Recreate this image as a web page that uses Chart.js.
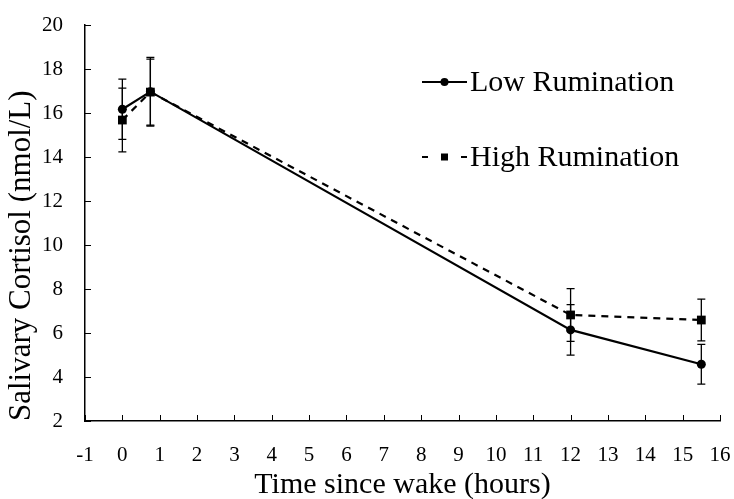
<!DOCTYPE html>
<html>
<head>
<meta charset="utf-8">
<script src="https://cdn.jsdelivr.net/npm/chart.js"></script>
<style>
  html, body { margin: 0; padding: 0; background: #fff; }
  #wrap { width: 734px; height: 499px; }
</style>
</head>
<body>
<div id="wrap"><canvas id="cortisolChart" width="734" height="499"></canvas></div>
<script>
// Tid sedan uppvaknande (timmar)
const hours = [0, 0.75, 12, 15.5];

// Kortisolvärden (nmol/L)
const lowRumination = [16.17, 16.97, 6.14, 4.58];
const highRumination = [15.68, 16.95, 6.82, 6.59];

// Felstaplar (±)
const lowErrors = [1.37, 1.56, 1.15, 0.9];
const highErrors = [1.45, 1.5, 1.2, 0.95];

const seriesLabels = ['Low Rumination', 'High Rumination'];
const xTitle = 'Time since wake (hours)';
const yTitle = 'Salivary Cortisol (nmol/L)';

const FONT = "'Liberation Serif', 'DejaVu Serif', serif";

function toPoints(xs, ys) {
    return xs.map((x, i) => ({ x: x, y: ys[i] }));
}

// Rita felstaplar via skalorna
const errorBars = {
    id: 'errorBars',
    afterDatasetsDraw(chart) {
        const ctx = chart.ctx;
        const yScale = chart.scales.y;
        chart.data.datasets.forEach((ds, di) => {
            const meta = chart.getDatasetMeta(di);
            ds.data.forEach((pt, i) => {
                const e = ds.errors[i];
                const xPos = meta.data[i].x;
                const yTop = yScale.getPixelForValue(pt.y + e);
                const yBot = yScale.getPixelForValue(pt.y - e);
                ctx.save();
                ctx.strokeStyle = '#000';
                ctx.lineWidth = 1.3;
                ctx.beginPath();
                ctx.moveTo(xPos, yTop);
                ctx.lineTo(xPos, yBot);
                ctx.moveTo(xPos - 4, yTop);
                ctx.lineTo(xPos + 4, yTop);
                ctx.moveTo(xPos - 4, yBot);
                ctx.lineTo(xPos + 4, yBot);
                ctx.stroke();
                ctx.restore();
            });
        });
    }
};

// Inåtvända tickmarkeringar
const innerTicks = {
    id: 'innerTicks',
    afterDraw(chart) {
        const ctx = chart.ctx;
        const xs = chart.scales.x;
        const ys = chart.scales.y;
        const area = chart.chartArea;
        ctx.save();
        ctx.strokeStyle = '#000';
        ctx.lineWidth = 1;
        ctx.beginPath();
        xs.ticks.forEach(t => {
            const px = Math.round(xs.getPixelForValue(t.value)) + 0.5;
            ctx.moveTo(px, area.bottom);
            ctx.lineTo(px, area.bottom - 6);
        });
        ys.ticks.forEach(t => {
            const py = Math.round(ys.getPixelForValue(t.value)) + 0.5;
            ctx.moveTo(area.left, py);
            ctx.lineTo(area.left + 6, py);
        });
        ctx.stroke();
        ctx.restore();
    }
};

// Egen legend inne i diagrammet
const insideLegend = {
    id: 'insideLegend',
    afterDraw(chart) {
        const ctx = chart.ctx;
        const rows = [82, 157];
        const x0 = 422, x1 = 467;
        ctx.save();
        chart.data.datasets.forEach((ds, i) => {
            const y = rows[i];
            ctx.strokeStyle = '#000';
            ctx.fillStyle = '#000';
            ctx.lineWidth = 2;
            ctx.beginPath();
            if (ds.borderDash) {
                ctx.moveTo(x0, y); ctx.lineTo(x0 + 6, y);
                ctx.moveTo(x1 - 6, y); ctx.lineTo(x1, y);
            } else {
                ctx.moveTo(x0, y); ctx.lineTo(x1, y);
            }
            ctx.stroke();
            const cx = (x0 + x1) / 2;
            if (ds.pointStyle === 'rect') {
                ctx.fillRect(cx - 3.5, y - 3.5, 7, 7);
            } else {
                ctx.beginPath();
                ctx.arc(cx, y, 4, 0, Math.PI * 2);
                ctx.fill();
            }
            ctx.font = '30px ' + FONT;
            ctx.textBaseline = 'middle';
            ctx.textAlign = 'left';
            ctx.fillText(ds.label, x1 + 3, y + 1);
        });
        ctx.restore();
    }
};

new Chart(document.getElementById('cortisolChart'), {
    type: 'scatter',
    data: {
        datasets: [{
            label: seriesLabels[0],
            data: toPoints(hours, lowRumination),
            errors: lowErrors,
            showLine: true,
            borderColor: '#000',
            backgroundColor: '#000',
            borderWidth: 2.2,
            pointStyle: 'circle',
            pointRadius: 4.5,
            pointBorderWidth: 0
        }, {
            label: seriesLabels[1],
            data: toPoints(hours, highRumination),
            errors: highErrors,
            showLine: true,
            borderColor: '#000',
            backgroundColor: '#000',
            borderWidth: 2.2,
            borderDash: [7, 6],
            pointStyle: 'rect',
            pointRadius: 6.2,
            pointBorderWidth: 0
        }]
    },
    options: {
        responsive: false,
        animation: false,
        layout: { padding: { left: 0, top: 25, right: 14, bottom: 0 } },
        plugins: {
            legend: { display: false },
            tooltip: { enabled: false }
        },
        scales: {
            x: {
                type: 'linear',
                min: -1,
                max: 16,
                ticks: {
                    stepSize: 1,
                    color: '#000',
                    padding: 22,
                    font: { family: FONT, size: 21 }
                },
                grid: { display: false, drawTicks: false },
                border: { color: '#000', width: 1.5 },
                title: {
                    display: true,
                    text: xTitle,
                    color: '#000',
                    padding: { top: 0, bottom: 0 },
                    font: { family: FONT, size: 30, lineHeight: 0.9 }
                },
                afterFit(scale) {
                    scale.height = 78;
                    scale.paddingLeft = 0;
                    scale.paddingRight = 0;
                }
            },
            y: {
                min: 2,
                max: 20,
                ticks: {
                    stepSize: 2,
                    color: '#000',
                    padding: 22,
                    font: { family: FONT, size: 21 }
                },
                grid: { display: false, drawTicks: false },
                border: { color: '#000', width: 1.5 },
                title: {
                    display: true,
                    text: yTitle,
                    align: 'start',
                    color: '#000',
                    padding: { top: 3, bottom: 0 },
                    font: { family: FONT, size: 31 }
                },
                afterFit(scale) {
                    scale.width = 85;
                    scale.paddingTop = 0;
                    scale.paddingBottom = 0;
                }
            }
        }
    },
    plugins: [errorBars, innerTicks, insideLegend]
});
</script>
</body>
</html>
